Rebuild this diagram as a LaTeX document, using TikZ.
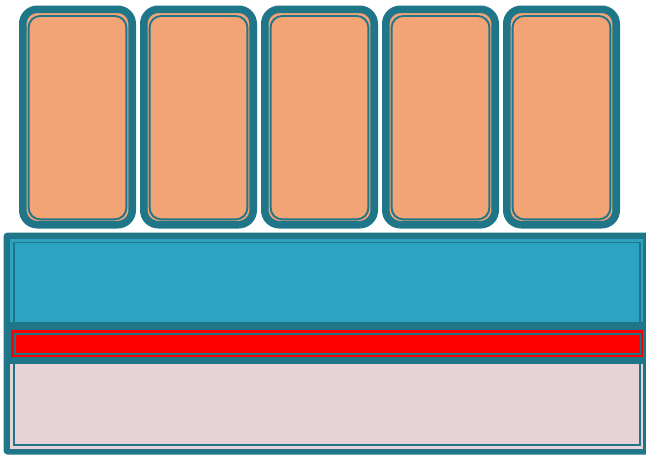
\documentclass[tikz,border=0pt]{standalone}
\definecolor{darkteal}{HTML}{1F7689}
\definecolor{peach}{HTML}{F2A477}
\definecolor{skyblue}{HTML}{2CA3C0}
\definecolor{palepink}{HTML}{E7D2D7}
\definecolor{pure red}{HTML}{FF0000}
\tikzset{
  cardouter/.style={draw=darkteal, line width=7.6pt, fill=peach, rounded corners=14.5pt},
  cardinner/.style={draw=darkteal, line width=1.9pt, rounded corners=11.5pt},
  thinline/.style={draw=darkteal, line width=1.8pt},
}
\begin{document}
\begin{tikzpicture}[x=1pt,y=-1pt]
\useasboundingbox (0,0) rectangle (646,455);
% top cards
\foreach \i in {0,...,4}{
  \pgfmathsetmacro{\xl}{19+121*\i}
  \path[cardouter] (\xl+3.8,9.3) rectangle (\xl+113.2,224.7);
  \path[cardinner] (\xl+9.6,16) rectangle (\xl+107.4,219.3);
}
% bottom container
\fill[darkteal, rounded corners=4pt] (3.5,232.5) rectangle (654,454.5);
\fill[skyblue] (10,238.5) rectangle (643,322);
\fill[palepink] (10,364) rectangle (643,448.5);
\draw[thinline] (14,322) |- (640,242.5) -- (640,322);
\draw[thinline] (14,364) |- (640,445) -- (640,364);
% red band
\fill[darkteal] (11,330) rectangle (643,357);
\draw[pure red, line width=2.5pt] (12.25,331.25) rectangle (641.75,355.75);
\fill[pure red] (15.5,335) rectangle (639.5,353);
\end{tikzpicture}
\end{document}
